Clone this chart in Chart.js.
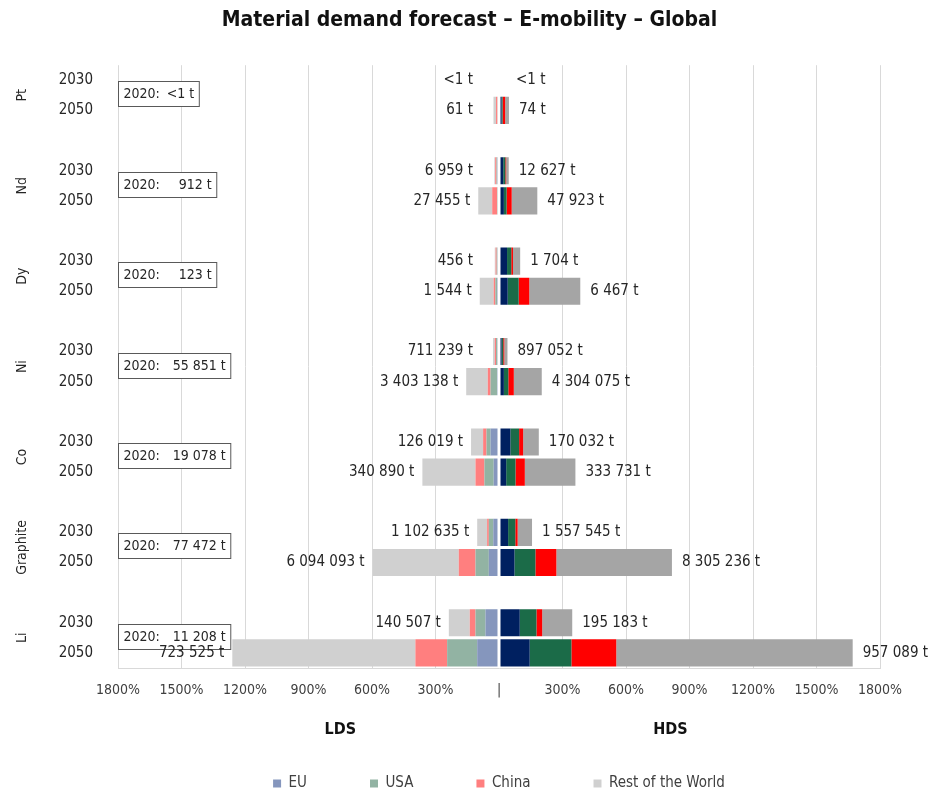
<!DOCTYPE html>
<html>
<head>
<meta charset="utf-8">
<title>Material demand forecast - E-mobility - Global</title>
<script src="https://cdn.jsdelivr.net/npm/chart.js@4.4.1/dist/chart.umd.min.js"></script>
<style>
  body { margin: 0; background: #ffffff; }
  #wrap { position: relative; width: 939px; height: 801px; }
</style>
</head>
<body>
<div id="wrap"><canvas id="demandChart"></canvas></div>
<script>
//	Chart data (top to bottom), one pair [2030, 2050] per material
var materials = ['Pt', 'Nd', 'Dy', 'Ni', 'Co', 'Graphite', 'Li'];
var years = ['2030', '2050'];
var demand2020 = ['<1 t', '912 t', '123 t', '55 851 t', '19 078 t', '77 472 t', '11 208 t'];
var regions = ['EU', 'USA', 'China', 'Rest of the World'];

// LDS scenario, % (drawn to the left)
var ldsEU    = [0, 3,   8, 4,    6, 9,    6, 8,     40, 25,   27, 48,   64, 103];
var ldsUSA   = [0, 3,   4, 4,    5, 8,    8, 32,    19, 44,   21, 63,   47, 142];
var ldsChina = [0, 8,   6, 24,   5, 8,    6, 13,    16, 42,   8, 79,    27, 150];
var ldsRoW   = [0, 12,  4, 66,   4, 66,   8, 102,   57, 251,  47, 407,  99, 865];

// HDS scenario, % (drawn to the right)
var hdsEU    = [0, 12,  20, 23,   38, 41,   12, 23,   54, 34,   43, 73,   98, 145];
var hdsUSA   = [0, 5,   10, 13,   20, 52,   8, 21,    41, 44,   34, 99,   79, 197];
var hdsChina = [0, 12,  4, 24,    8, 50,    5, 26,    19, 44,   11, 99,   27, 212];
var hdsRoW   = [0, 18,  12, 121,  34, 241,  15, 132,  74, 239,  68, 546,  142, 1117];

var ldsTonnes = ['<1 t', '61 t', '6 959 t', '27 455 t', '456 t', '1 544 t', '711 239 t', '3 403 138 t',
	'126 019 t', '340 890 t', '1 102 635 t', '6 094 093 t', '140 507 t', '723 525 t'];
var hdsTonnes = ['<1 t', '74 t', '12 627 t', '47 923 t', '1 704 t', '6 467 t', '897 052 t', '4 304 075 t',
	'170 032 t', '333 731 t', '1 557 545 t', '8 305 236 t', '195 183 t', '957 089 t'];

var xTicks = { min: -1800, max: 1800, step: 300 };

var ldsColors = ['#8596bd', '#92b3a3', '#ff7f7f', '#d0d0d0'];
var hdsColors = ['#002060', '#1b6b48', '#ff0000', '#a5a5a5'];
var textColor = '#262626';
var fontFamily = "'DejaVu Sans Condensed', 'DejaVu Sans', sans-serif";

//	Category slots: 2030, 2050 and an empty row between materials
var slotLabels = [];
var slotIndex = [];
materials.forEach(function (m, i) {
	years.forEach(function (y) {
		slotIndex.push(slotLabels.length);
		slotLabels.push(y);
	});
	if (i < materials.length - 1) slotLabels.push('');
});

var spread = function (values, sign) {
	var out = slotLabels.map(function () { return null; });
	values.forEach(function (v, k) { out[slotIndex[k]] = v * sign; });
	return out;
};

var ldsSeries = [ldsEU, ldsUSA, ldsChina, ldsRoW];
var hdsSeries = [hdsEU, hdsUSA, hdsChina, hdsRoW];
var datasets = [];
ldsSeries.forEach(function (s, i) {
	datasets.push({ label: regions[i], data: spread(s, -1), backgroundColor: ldsColors[i], stack: 'demand' });
});
hdsSeries.forEach(function (s, i) {
	datasets.push({ label: 'HDS ' + regions[i], data: spread(s, 1), backgroundColor: hdsColors[i], stack: 'demand' });
});

var sumAt = function (series, k) {
	return series.reduce(function (acc, s) { return acc + s[k]; }, 0);
};

//	Plugins
var centerGap = {
	id: 'centerGap',
	afterDatasetsDraw: function (chart) {
		var ctx = chart.ctx, area = chart.chartArea;
		var x0 = chart.scales.x.getPixelForValue(0);
		ctx.save();
		ctx.fillStyle = '#ffffff';
		ctx.fillRect(x0 - 1.5, area.top, 3, area.bottom - area.top - 1);
		ctx.restore();
	}
};

var annotations = {
	id: 'annotations',
	afterDraw: function (chart) {
		var ctx = chart.ctx, area = chart.chartArea;
		var xs = chart.scales.x, ys = chart.scales.y;
		var x0 = xs.getPixelForValue(0);
		ctx.save();
		ctx.fillStyle = textColor;
		ctx.textBaseline = 'middle';

		materials.forEach(function (m, i) {
			var yA = ys.getPixelForValue(slotIndex[2 * i]);
			var yB = ys.getPixelForValue(slotIndex[2 * i + 1]);
			var yMid = (yA + yB) / 2;

			// material name, rotated
			ctx.save();
			ctx.font = '14px ' + fontFamily;
			ctx.translate(22, yMid);
			ctx.rotate(-Math.PI / 2);
			ctx.textAlign = 'center';
			ctx.fillText(m, 0, 0);
			ctx.restore();

			// 2020 reference box
			ctx.font = '14px ' + fontFamily;
			ctx.textAlign = 'left';
			var head = '2020:', gap = demand2020[i] === '<1 t' ? 7 : (demand2020[i].length > 6 ? 13 : 19);
			var headW = ctx.measureText(head).width;
			var w = headW + gap + ctx.measureText(demand2020[i]).width + 10;
			var bx = area.left + 0.5, by = Math.round(yMid - 14) + 0.5;
			ctx.fillStyle = '#ffffff';
			ctx.fillRect(bx, by, w, 25);
			ctx.strokeStyle = '#595959';
			ctx.lineWidth = 1;
			ctx.strokeRect(bx, by, w, 25);
			ctx.fillStyle = textColor;
			ctx.fillText(head, bx + 5, by + 13);
			ctx.fillText(demand2020[i], bx + 5 + headW + gap, by + 13);
		});

		// tonnage labels next to bars
		ctx.font = '15px ' + fontFamily;
		slotIndex.forEach(function (slot, k) {
			var y = ys.getPixelForValue(slot);
			var left = xs.getPixelForValue(-sumAt(ldsSeries, k));
			var right = xs.getPixelForValue(sumAt(hdsSeries, k));
			ctx.textAlign = 'right';
			ctx.fillText(ldsTonnes[k], Math.min(left - 8, x0 - 26), y);
			ctx.textAlign = 'left';
			ctx.fillText(hdsTonnes[k], Math.max(right + 10, x0 + 17), y);
		});

		// scenario names
		ctx.font = 'bold 16px ' + fontFamily;
		ctx.textAlign = 'center';
		ctx.fillStyle = '#111111';
		ctx.fillText('LDS', xs.getPixelForValue(-750), 730);
		ctx.fillText('HDS', xs.getPixelForValue(810), 730);
		ctx.restore();
	}
};

var legendFit = {
	id: 'legendFit',
	afterInit: function (chart) {
		var legend = chart.legend;
		var fit = legend.fit;
		legend.fit = function () {
			fit.call(this);
			this.height = 88;
		};
	}
};

Chart.defaults.font.family = fontFamily;
Chart.defaults.color = textColor;

new Chart(document.getElementById('demandChart'), {
	type: 'bar',
	data: { labels: slotLabels, datasets: datasets },
	plugins: [legendFit, centerGap, annotations],
	options: {
		indexAxis: 'y',
		responsive: true,
		maintainAspectRatio: false,
		animation: false,
		layout: { padding: 0 },
		datasets: { bar: { barPercentage: 0.9, categoryPercentage: 1.0 } },
		scales: {
			x: {
				stacked: true,
				min: xTicks.min,
				max: xTicks.max,
				afterFit: function (s) { s.height = 45; },
				border: { display: true, color: '#d9d9d9' },
				grid: {
					drawTicks: false,
					color: function (c) { return c.tick && c.tick.value === 0 ? 'rgba(0,0,0,0)' : '#d9d9d9'; }
				},
				ticks: {
					stepSize: xTicks.step,
					padding: 14,
					color: '#404040',
					font: { size: 14 },
					callback: function (v) { return v === 0 ? '|' : Math.abs(v) + '%'; }
				}
			},
			y: {
				stacked: true,
				afterFit: function (s) { s.width = 118; },
				border: { display: false },
				grid: { display: false, drawTicks: false },
				ticks: { autoSkip: false, padding: 25, color: textColor, font: { size: 15 } }
			},
			// empty right margin so the title stays centred on the page
			margin: {
				type: 'linear',
				position: 'right',
				afterFit: function (s) { s.width = 59; },
				border: { display: false },
				grid: { display: false, drawTicks: false },
				ticks: { display: false }
			}
		},
		plugins: {
			title: {
				display: true,
				text: 'Material demand forecast \u2013 E-mobility \u2013 Global',
				color: '#111111',
				font: { size: 21, weight: 'bold' },
				padding: { top: 8, bottom: 32 }
			},
			legend: {
				position: 'bottom',
				fullSize: false,
				labels: {
					boxWidth: 8,
					boxHeight: 8,
					padding: 63,
					color: '#404040',
					font: { size: 15 },
					filter: function (item) { return item.datasetIndex < 4; }
				}
			},
			tooltip: { enabled: false }
		}
	}
});
</script>
</body>
</html>
